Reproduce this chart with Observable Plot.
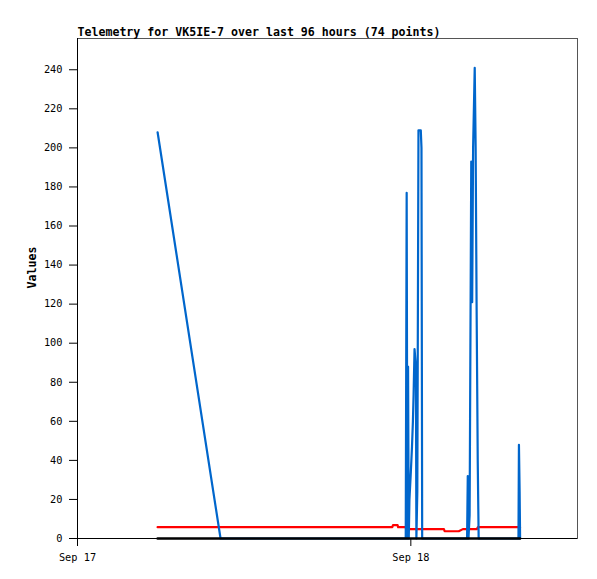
<!DOCTYPE html>
<html>
<head>
<meta charset="utf-8">
<script src="https://cdn.jsdelivr.net/npm/d3@7"></script>
<script src="https://cdn.jsdelivr.net/npm/@observablehq/plot@0.6"></script>
<style>
  html, body { margin: 0; padding: 0; background: #fff; }
</style>
</head>
<body>
<div id="chart"></div>
<script>
const titleText = "Telemetry for VK5IE-7 over last 96 hours (74 points)";
const yLabel = "Values";

const blueTimes = [
  "2023-09-17T05:46","2023-09-17T10:18","2023-09-17T23:38","2023-09-17T23:42",
  "2023-09-17T23:45","2023-09-17T23:48","2023-09-17T23:51","2023-09-17T23:54",
  "2023-09-18T00:00","2023-09-18T00:05","2023-09-18T00:09","2023-09-18T00:12",
  "2023-09-18T00:16","2023-09-18T00:22","2023-09-18T00:24","2023-09-18T00:28",
  "2023-09-18T00:33","2023-09-18T00:43","2023-09-18T00:46","2023-09-18T00:49",
  "2023-09-18T04:03","2023-09-18T04:06","2023-09-18T04:09","2023-09-18T04:14",
  "2023-09-18T04:21","2023-09-18T04:25","2023-09-18T04:29","2023-09-18T04:36",
  "2023-09-18T04:40","2023-09-18T04:44","2023-09-18T04:49","2023-09-18T04:53",
  "2023-09-18T07:45","2023-09-18T07:47","2023-09-18T07:50","2023-09-18T07:52"
];
const blueValues = [
  208, 0, 0, 177,
  0, 88, 0, 20,
  34, 47, 60, 74,
  97, 88, 0, 24,
  209, 209, 200, 0,
  0, 32, 0, 12,
  193, 121, 200, 241,
  200, 121, 40, 0,
  0, 48, 24, 0
];

const redTimes = [
  "2023-09-17T05:46","2023-09-17T22:40","2023-09-17T22:43","2023-09-17T23:03",
  "2023-09-17T23:05","2023-09-17T23:38","2023-09-17T23:40","2023-09-18T02:23",
  "2023-09-18T02:26","2023-09-18T03:27","2023-09-18T03:45","2023-09-18T04:45",
  "2023-09-18T04:50","2023-09-18T07:52"
];
const redValues = [5.8, 5.8, 6.8, 6.8, 5.8, 5.8, 4.8, 4.8, 3.7, 3.7, 4.8, 4.8, 5.8, 5.8];

const blackTimes = ["2023-09-17T05:46", "2023-09-18T07:52"];
const blackValues = [0, 0];

const xDomain = ["2023-09-17T00:00", "2023-09-18T12:00"];
const xTickDates = ["2023-09-17T00:00", "2023-09-18T00:00"];
const yTicks = [0, 20, 40, 60, 80, 100, 120, 140, 160, 180, 200, 220, 240];
const yDomain = [0, 256];

const parse = s => new Date(s + "Z");
const blue = blueTimes.map((t, i) => ({t: parse(t), v: blueValues[i]}));
const red = redTimes.map((t, i) => ({t: parse(t), v: redValues[i]}));
const black = blackTimes.map((t, i) => ({t: parse(t), v: blackValues[i]}));

const mono = "'DejaVu Sans Mono', 'Liberation Mono', monospace";

const chart = Plot.plot({
  width: 597,
  height: 579,
  marginLeft: 77,
  marginRight: 20,
  marginTop: 38,
  marginBottom: 41,
  style: {fontFamily: mono, fontSize: "10.3px", background: "#fff", color: "#000"},
  x: {type: "utc", domain: xDomain.map(parse)},
  y: {domain: yDomain},
  marks: [
    Plot.frame({stroke: "#555", strokeWidth: 1}),
    Plot.axisY({ticks: yTicks, tickSize: 8, tickPadding: 7, label: null, stroke: "#000"}),
    Plot.axisX({ticks: xTickDates.map(parse), tickFormat: d3.utcFormat("%b %d"), tickSize: 8, tickPadding: 7, label: null}),
    Plot.lineY(red, {x: "t", y: "v", stroke: "#ff0000", strokeWidth: 2.2}),
    Plot.lineY(blue, {x: "t", y: "v", stroke: "#0066cc", strokeWidth: 2.2}),
    Plot.lineY(black, {x: "t", y: "v", stroke: "#000", strokeWidth: 2.5}),
    Plot.ruleY([yDomain[0]], {stroke: "#000", strokeWidth: 1}),
    Plot.ruleX([parse(xDomain[0])], {stroke: "#000", strokeWidth: 1}),
    Plot.text([titleText], {frameAnchor: "top-left", textAnchor: "start", lineAnchor: "bottom", dy: -3, fontWeight: "bold", fontSize: 11.6}),
    Plot.text([yLabel], {frameAnchor: "left", rotate: -90, dx: -45, fontWeight: "bold", fontSize: 11.6})
  ]
});
document.getElementById("chart").appendChild(chart);
</script>
</body>
</html>
